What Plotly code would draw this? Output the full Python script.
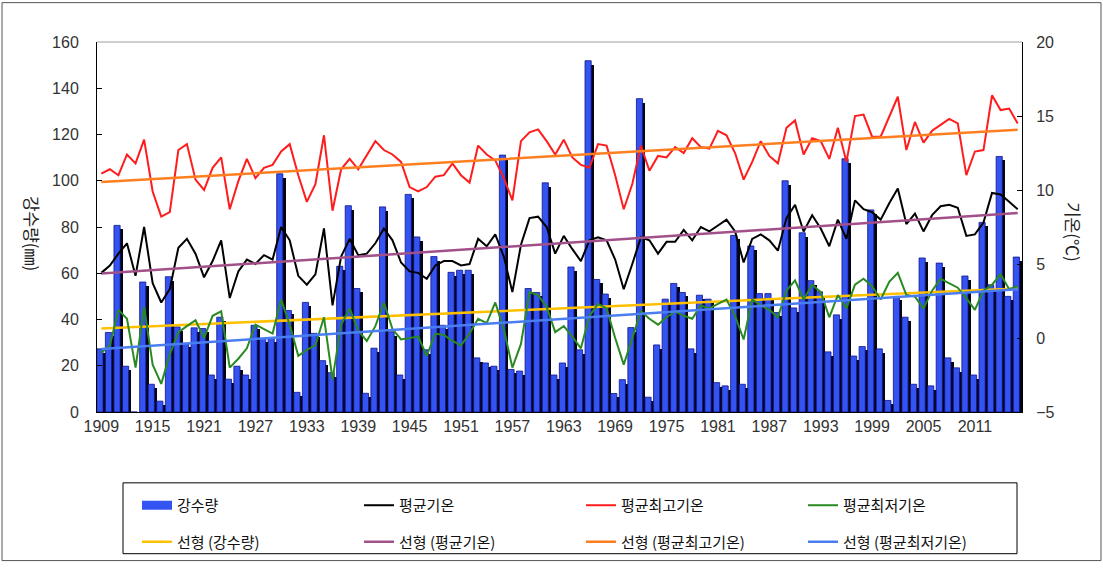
import numpy as np
import plotly.graph_objects as go

years = list(range(1909, 2017))

precip = [27.3, 34.4, 80.7, 19.8, 0.0, 56.2, 12.0, 4.7, 58.5, 36.8,
          29.7, 36.4, 36.1, 16.0, 41.0, 14.2, 19.8, 16.0, 37.5, 31.8,
          31.8, 103.0, 43.9, 8.5, 47.4, 34.0, 22.2, 17.0, 63.0, 89.2,
          53.4, 8.1, 27.6, 88.7, 34.7, 16.0, 94.1, 75.7, 26.9, 67.2,
          37.5, 60.4, 61.3, 61.3, 23.4, 21.2, 19.8, 111.1, 18.4, 17.7,
          53.4, 51.7, 99.1, 16.0, 21.2, 62.7, 26.9, 151.9, 57.3, 51.0,
          8.0, 14.0, 36.5, 135.5, 6.4, 29.0, 48.8, 55.6, 51.7, 27.3,
          50.5, 48.8, 12.7, 11.3, 76.4, 12.0, 71.8, 51.2, 51.2, 43.0,
          100.0, 45.0, 77.5, 56.8, 52.0, 26.0, 42.0, 109.5, 24.2, 28.3,
          87.4, 27.3, 5.0, 50.0, 41.0, 12.0, 66.6, 11.3, 64.4, 23.4,
          19.1, 58.8, 16.0, 82.0, 55.0, 110.5, 50.0, 67.0]

tmean = [4.4, 4.9, 5.7, 6.4, 4.2, 7.5, 3.7, 2.4, 3.3, 6.1,
         6.7, 5.7, 4.1, 5.2, 6.6, 2.7, 4.5, 5.3, 5.0, 5.6,
         5.3, 7.5, 6.6, 4.2, 3.6, 4.3, 7.4, 2.2, 5.5, 6.7,
         5.6, 5.7, 6.4, 7.4, 6.6, 5.1, 4.5, 4.4, 4.0, 4.9,
         5.2, 5.2, 4.9, 5.0, 6.7, 6.2, 7.0, 5.5, 3.1, 6.3,
         8.1, 8.2, 7.5, 5.7, 6.9, 6.0, 5.2, 6.6, 6.8, 6.6,
         5.3, 3.3, 5.0, 6.8, 6.6, 5.7, 6.5, 6.5, 7.3, 6.6,
         7.5, 7.2, 7.6, 8.0, 7.2, 5.1, 6.7, 7.0, 6.6, 5.9,
         8.1, 9.0, 7.2, 8.3, 7.4, 6.2, 8.0, 6.7, 9.3, 8.7,
         8.5, 8.0, 9.1, 10.1, 7.7, 8.4, 7.2, 8.3, 8.9, 9.0,
         8.8, 6.9, 7.0, 7.8, 9.8, 9.7, 9.2, 8.7]

tmax = [11.1, 11.4, 11.0, 12.4, 11.8, 13.4, 9.9, 8.2, 8.5, 12.7,
        13.1, 10.7, 10.0, 11.5, 12.2, 8.7, 10.6, 12.1, 10.8, 11.5,
        11.7, 12.6, 13.1, 11.0, 9.2, 10.4, 13.7, 8.6, 11.4, 12.1,
        11.4, 12.4, 13.3, 12.7, 12.4, 11.9, 10.2, 9.9, 10.2, 10.9,
        11.0, 11.8, 11.0, 10.5, 13.0, 12.4, 12.0, 10.8, 9.3, 13.3,
        13.9, 14.1, 13.3, 12.4, 13.4, 12.2, 11.7, 11.5, 13.1, 13.0,
        11.0, 8.7, 10.4, 13.0, 11.3, 12.3, 12.2, 12.9, 12.5, 13.5,
        12.9, 12.8, 14.0, 13.7, 12.5, 10.7, 11.9, 13.3, 12.3, 11.8,
        14.2, 14.7, 12.4, 13.5, 13.3, 12.1, 14.2, 11.9, 15.0, 15.1,
        13.6, 13.6, 14.9, 16.3, 12.7, 14.6, 13.2, 14.0, 14.4, 14.8,
        14.5, 11.0, 12.6, 12.7, 16.4, 15.4, 15.5, 14.5]

tmin = [-1.0, -0.5, 1.9, 1.3, -2.0, 2.1, -1.8, -3.1, -1.1, 0.4,
        0.8, 1.2, 0.0, 1.5, 1.8, -2.0, -1.4, -0.7, 0.9, 0.6,
        0.3, 2.6, 0.9, -1.2, -0.8, -0.5, 1.4, -2.8, 0.9, 2.0,
        0.5, -0.2, 0.8, 2.4, 0.6, -0.1, 0.0, 0.1, -1.2, 0.3,
        0.2, -0.2, -0.5, 0.3, 1.3, 1.0, 2.4, 0.6, -2.0, -0.4,
        3.1, 2.9, 2.1, 0.4, 0.8, 0.1, -0.7, 1.5, 2.3, 2.0,
        0.0, -1.8, 0.0, 1.8, 1.3, 0.9, 1.4, 1.8, 1.5, 1.3,
        2.2, 2.0, 2.3, 2.6, 1.5, -0.1, 2.6, 2.2, 1.9, 1.4,
        3.2, 3.9, 2.6, 3.6, 3.1, 1.4, 2.9, 2.0, 3.6, 4.0,
        3.5, 2.6, 3.8, 4.4, 2.9, 2.8, 2.0, 3.2, 4.0, 3.7,
        3.4, 2.7, 1.9, 3.2, 3.6, 4.3, 3.3, 3.5]

tick_years = list(range(1909, 2012, 6))

names_main = ["강수량", "평균기온", "평균최고기온", "평균최저기온"]
names_trend = ["선형 (강수량)", "선형 (평균기온)", "선형 (평균최고기온)", "선형 (평균최저기온)"]

yrs = np.array(years, dtype=float)


def linear_trend(values):
    coef = np.polyfit(yrs, np.array(values, dtype=float), 1)
    return np.polyval(coef, yrs)


shadow_drop = 1.7
shadow = [max(v - shadow_drop, 0.0) for v in precip]

KFONT = "Noto Sans CJK KR, Noto Sans, sans-serif"
NFONT = "Liberation Sans, Arial, sans-serif"
BAR_BLUE = "#3454f2"

# plot-area geometry in pixels (used only to place decorations)
L, T, W, H = 97, 42, 925, 376
B = T + H


def px(x):
    return (x - L) / W


def py(y):
    return (B - y) / H


fig = go.Figure()

# bar shadow (drawn behind)
fig.add_trace(go.Bar(
    x=years, y=shadow, offset=-0.2, width=0.72,
    marker=dict(color="#050510", line=dict(width=0)),
    showlegend=False, hoverinfo="skip"))

fig.add_trace(go.Bar(
    x=years, y=precip, offset=-0.52, width=0.72,
    marker=dict(color=BAR_BLUE, line=dict(color="#12128c", width=0.8)),
    name=names_main[0], showlegend=False))

# legend swatch for the bars (wide rectangle like the original)
fig.add_trace(go.Scatter(
    x=[None], y=[None], mode="lines",
    line=dict(color=BAR_BLUE, width=9),
    name=names_main[0], legend="legend", hoverinfo="skip"))

fig.add_trace(go.Scatter(
    x=years, y=linear_trend(precip), mode="lines",
    line=dict(color="#ffc000", width=2.5),
    name=names_trend[0], legend="legend2"))

fig.add_trace(go.Scatter(
    x=years, y=tmean, mode="lines", yaxis="y2",
    line=dict(color="#000000", width=2),
    name=names_main[1], legend="legend"))
fig.add_trace(go.Scatter(
    x=years, y=tmax, mode="lines", yaxis="y2",
    line=dict(color="#ff1c1c", width=2),
    name=names_main[2], legend="legend"))
fig.add_trace(go.Scatter(
    x=years, y=tmin, mode="lines", yaxis="y2",
    line=dict(color="#2a8a22", width=2),
    name=names_main[3], legend="legend"))

fig.add_trace(go.Scatter(
    x=years, y=linear_trend(tmean), mode="lines", yaxis="y2",
    line=dict(color="#a2508a", width=2.5),
    name=names_trend[1], legend="legend2"))
fig.add_trace(go.Scatter(
    x=years, y=linear_trend(tmax), mode="lines", yaxis="y2",
    line=dict(color="#ff7f20", width=2.5),
    name=names_trend[2], legend="legend2"))
fig.add_trace(go.Scatter(
    x=years, y=linear_trend(tmin), mode="lines", yaxis="y2",
    line=dict(color="#4a7ef0", width=2.5),
    name=names_trend[3], legend="legend2"))

tickfont = dict(family=NFONT, size=16, color="#333333")

legend_common = dict(
    orientation="h", xanchor="left", yanchor="middle",
    entrywidth=177, entrywidthmode="pixels",
    font=dict(family=KFONT, size=15, color="#111111"),
    bgcolor="rgba(0,0,0,0)", borderwidth=0,
    traceorder="normal", itemclick=False)

fig.update_layout(
    width=1103, height=571,
    margin=dict(l=L, r=1103 - L - W, t=T, b=571 - B),
    paper_bgcolor="white", plot_bgcolor="white",
    barmode="overlay", bargap=0,
    showlegend=True,
    xaxis=dict(
        range=[1908.5, 2016.5], tickvals=tick_years,
        ticktext=[str(y) for y in tick_years],
        showgrid=False, zeroline=False, showline=True,
        linecolor="#000000", linewidth=1, ticks="",
        tickfont=tickfont),
    yaxis=dict(
        range=[0, 160], dtick=20, showgrid=False, zeroline=False,
        showline=True, linecolor="#000000", linewidth=1,
        ticks="inside", ticklen=5, tickcolor="#000000",
        ticklabelstandoff=14, tickfont=tickfont),
    yaxis2=dict(
        range=[-5, 20], dtick=5, overlaying="y", side="right",
        showgrid=False, zeroline=False, showline=True,
        linecolor="#000000", linewidth=1,
        ticks="inside", ticklen=5, tickcolor="#000000",
        ticklabelstandoff=10, tickfont=tickfont),
    legend=dict(x=px(137), y=py(513), **legend_common),
    legend2=dict(x=px(137), y=py(550), **legend_common),
    shapes=[
        dict(type="line", xref="paper", yref="paper", x0=0, x1=1, y0=1, y1=1,
             line=dict(color="#a0a0a0", width=1)),
        dict(type="rect", xref="paper", yref="paper",
             x0=px(123), x1=px(1017), y0=py(562), y1=py(490),
             line=dict(color="#000000", width=1)),
        dict(type="rect", xref="paper", yref="paper",
             x0=px(2), x1=px(1101), y0=py(569), y1=py(2),
             line=dict(color="#555555", width=1)),
    ],
    annotations=[
        dict(text="강수량(㎜)", xref="paper", yref="paper",
             x=px(32), y=py(236), xanchor="center", yanchor="middle",
             showarrow=False, textangle=90,
             font=dict(family=KFONT, size=17, color="#222222")),
        dict(text="기온(℃)", xref="paper", yref="paper",
             x=px(1073), y=py(235), xanchor="center", yanchor="middle",
             showarrow=False, textangle=90,
             font=dict(family=KFONT, size=17, color="#222222")),
    ],
)

fig.write_html(
    "out.html",
    config={"displayModeBar": False, "staticPlot": True},
    post_script="document.body.style.margin='0px';document.body.style.overflow='hidden';")
